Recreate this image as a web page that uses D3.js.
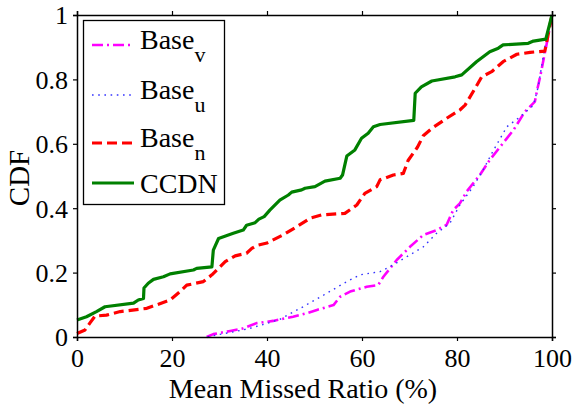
<!DOCTYPE html>
<html>
<head>
<meta charset="utf-8">
<script src="https://cdn.jsdelivr.net/npm/d3@7"></script>
<style>
  body { margin: 0; background: #fff; }
  svg text { font-family: "Liberation Serif", "DejaVu Serif", serif; fill: #000; }
</style>
</head>
<body>
<svg id="chart" width="574" height="406"></svg>
<script>
// axis ticks
var xTicks = [0, 20, 40, 60, 80, 100];
var yTicks = [0, 0.2, 0.4, 0.6, 0.8, 1];

// series names (legend order)
var seriesNames = ["v", "u", "n", "CCDN"];

// [mean missed ratio (%), CDF]
var baseV = [[27.3,0],[28.7,0.009],[32,0.018],[35,0.027],[37.8,0.043],[41.3,0.05],[45.5,0.063],[48.4,0.074],
  [50.5,0.084],[54,0.099],[55.4,0.125],[57.5,0.141],[61,0.156],[63.4,0.161],[64.5,0.187],[67.3,0.239],
  [70.1,0.28],[72.9,0.317],[75.7,0.332],[77.8,0.348],[79.2,0.394],[80.6,0.415],[82,0.451],[84.8,0.503],
  [86.9,0.55],[89.1,0.591],[91.9,0.643],[94.3,0.7],[96.4,0.731],[96.8,0.762],[97.5,0.808],[98.2,0.86],
  [98.9,0.912],[100,1]];

var baseU = [[27.5,0],[30,0.008],[33,0.016],[36.4,0.027],[39.5,0.04],[42.7,0.055],[47.6,0.094],[52.6,0.136],
  [56.8,0.172],[59.6,0.193],[63.8,0.203],[66.6,0.224],[69.4,0.249],[72.9,0.28],[75.7,0.322],[78.5,0.353],
  [80.6,0.41],[83.4,0.467],[85.5,0.519],[87.5,0.575],[90.5,0.653],[93.3,0.684],[96.1,0.72],[97.1,0.777],
  [97.8,0.839],[98.5,0.902],[100,1]];

var baseN = [[0,0.011],[1.7,0.022],[2.7,0.043],[3.8,0.065],[6.2,0.068],[9.1,0.079],[14.7,0.089],[19.6,0.115],
  [21.7,0.141],[23.1,0.161],[26.6,0.172],[28.4,0.193],[31.2,0.234],[33.3,0.252],[35.7,0.26],[36.8,0.275],
  [37.8,0.284],[40,0.292],[43.4,0.317],[46.3,0.343],[49.1,0.369],[51.5,0.379],[56.4,0.384],[58.9,0.41],
  [60.6,0.446],[63.1,0.467],[63.8,0.488],[66.6,0.503],[68.7,0.508],[69.7,0.548],[71.7,0.59],[72.9,0.625],
  [74.7,0.648],[77.8,0.679],[80.6,0.705],[81.7,0.72],[83.8,0.772],[85.2,0.808],[87.3,0.824],[89.7,0.855],
  [92.6,0.878],[95.4,0.884],[98.5,0.888],[100,1]];

var ccdn = [[0,0.053],[2,0.063],[4.1,0.079],[5.9,0.094],[11.9,0.105],[12.9,0.115],[14,0.12],[14.1,0.152],
  [15,0.167],[16.1,0.179],[18.2,0.187],[19.6,0.196],[24.5,0.208],[25.2,0.213],[28.4,0.218],[28.7,0.27],
  [29.8,0.306],[32.9,0.322],[35,0.332],[35.7,0.347],[37.5,0.355],[38.3,0.366],[39.4,0.374],[40.6,0.394],
  [42.7,0.425],[44.5,0.441],[45.2,0.45],[47.3,0.457],[48,0.462],[50.1,0.467],[52.2,0.484],[55.4,0.493],
  [55.9,0.503],[56.8,0.562],[58.5,0.581],[59.9,0.617],[61.3,0.633],[62.4,0.653],[63.8,0.66],[70.9,0.673],
  [71.2,0.757],[72.5,0.777],[74.7,0.795],[79.6,0.808],[81,0.814],[84.1,0.855],[86.9,0.886],[88.7,0.897],
  [89.7,0.907],[95,0.912],[96.1,0.919],[98.7,0.925],[100,1]];

var svg = d3.select("#chart");
var margin = {top: 15, right: 22, bottom: 69, left: 77};
var width = 574 - margin.left - margin.right,
    height = 406 - margin.top - margin.bottom;

var x = d3.scaleLinear().domain([0, 100]).range([0, width]);
var y = d3.scaleLinear().domain([0, 1]).range([height, 0]);

var g = svg.append("g").attr("transform", `translate(${margin.left},${margin.top})`);

// style of each series line
var styles = [
  {data: baseV, color: "#ff00ff", w: 2.6, dash: "11,4,2,4"},
  {data: baseU, color: "#3333ff", w: 1.4, dash: "1.6,4.6"},
  {data: baseN, color: "#ff0000", w: 3.2, dash: "10,5"},
  {data: ccdn,  color: "#008000", w: 3.2, dash: null}
];

var line = d3.line().x(d => x(d[0])).y(d => y(d[1]));

styles.forEach(function(s) {
  g.append("path")
    .datum(s.data)
    .attr("fill", "none")
    .attr("stroke", s.color)
    .attr("stroke-width", s.w)
    .attr("stroke-dasharray", s.dash)
    .attr("stroke-linejoin", "round")
    .attr("d", line);
});

// axes, ticks outward on every side
var fmtY = d => d === 0 || d === 1 ? d3.format("d")(d) : d3.format(".1f")(d);
var xAxis = g.append("g").attr("transform", `translate(0,${height})`)
  .call(d3.axisBottom(x).tickValues(xTicks).tickSize(4).tickPadding(3));
var yAxis = g.append("g")
  .call(d3.axisLeft(y).tickValues(yTicks).tickSize(4).tickPadding(5).tickFormat(fmtY));
g.append("g").call(d3.axisTop(x).tickValues(xTicks).tickSize(4).tickFormat(""));
g.append("g").attr("transform", `translate(${width},0)`)
  .call(d3.axisRight(y).tickValues(yTicks).tickSize(4).tickFormat(""));

g.selectAll(".domain").attr("stroke", "#000").attr("stroke-width", 1.5);
g.selectAll(".tick line").attr("stroke", "#000").attr("stroke-width", 1.2);
xAxis.selectAll("text").attr("font-size", 26).attr("font-family", "Liberation Serif").attr("dy", "0.9em");
yAxis.selectAll("text").attr("font-size", 26).attr("font-family", "Liberation Serif").attr("dy", "0.34em");

// axis titles
svg.append("text")
  .attr("x", 303).attr("y", 398)
  .attr("text-anchor", "middle")
  .attr("font-size", 28)
  .text("Mean Missed Ratio (%)");

svg.append("text")
  .attr("transform", "translate(29,178) rotate(-90)")
  .attr("text-anchor", "middle")
  .attr("font-size", 29)
  .text("CDF");

// legend
var legend = svg.append("g");
legend.append("rect")
  .attr("x", 83.5).attr("y", 20.5).attr("width", 141).attr("height", 184)
  .attr("fill", "#fff").attr("stroke", "#000").attr("stroke-width", 1.3);

var rowY = [45, 95, 143, 183];
styles.forEach(function(s, i) {
  legend.append("line")
    .attr("x1", 92).attr("x2", 134)
    .attr("y1", rowY[i]).attr("y2", rowY[i])
    .attr("stroke", s.color).attr("stroke-width", s.w)
    .attr("stroke-dasharray", s.dash);
  var t = legend.append("text")
    .attr("x", 140).attr("y", rowY[i] + (i < 3 ? 4 : 10))
    .attr("font-size", 28);
  if (i < 3) {
    t.append("tspan").text("Base");
    t.append("tspan").attr("font-size", 22).attr("dy", 13).text(seriesNames[i]);
  } else {
    t.text(seriesNames[i]);
  }
});
</script>
</body>
</html>
